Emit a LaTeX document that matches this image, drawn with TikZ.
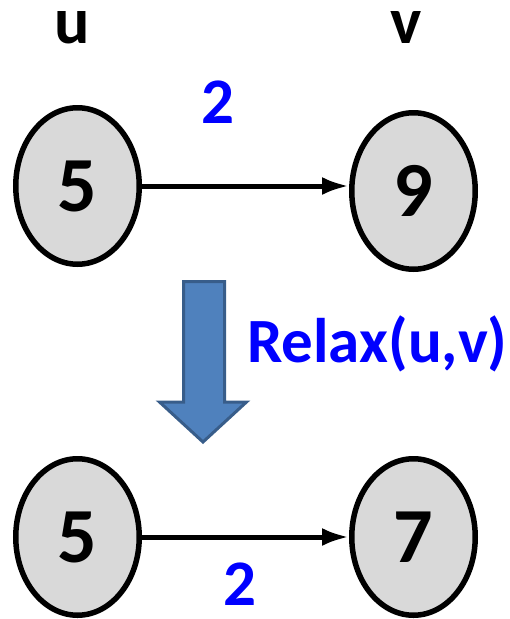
\documentclass[tikz,border=0pt]{standalone}
\usepackage{fontspec}
\setmainfont{Carlito}
\usetikzlibrary{shapes.geometric,arrows.meta}
\definecolor{vertexfill}{HTML}{D9D9D9}
\definecolor{stepblue}{HTML}{4F81BD}
\definecolor{stepedge}{HTML}{385D8A}
\definecolor{labelblue}{HTML}{0000FF}
\begin{document}
\begin{tikzpicture}[x=1pt,y=-1pt,
  vertex/.style={ellipse,draw=black,fill=vertexfill,line width=5.5pt,
    minimum width=123.5pt,minimum height=156.5pt,inner sep=0pt,
    font=\fontsize{78}{78}\selectfont\bfseries},
  edgearrow/.style={line width=5pt,-{Latex[length=27pt,width=18pt]}},
  weight/.style={text=labelblue,font=\fontsize{65}{65}\selectfont\bfseries,anchor=base,inner sep=0pt},
  namelabel/.style={font=\fontsize{66}{66}\selectfont\bfseries,anchor=base,inner sep=0pt},
  steplabel/.style={text=labelblue,font=\fontsize{63}{63}\selectfont\bfseries,anchor=base west,inner sep=0pt}]
\useasboundingbox (0,0) rectangle (510,619);

% vertex names
\node[namelabel] (uname) at (72,43) {u};
\node[namelabel] (vname) at (406,43) {v};

% before relaxation
\node[vertex] (u1) at (77.5,186) {5};
\node[vertex] (v1) at (413.5,191) {9};
\draw[edgearrow] (u1.east) -- (u1.east -| v1.west);
\node[weight] (w1) at (218,123) {2};

% relaxation step
\draw[line width=3pt,draw=stepedge,fill=stepblue,line join=miter]
  (183.5,281.5) -- (224.5,281.5) -- (224.5,402) -- (246.5,402) --
  (203,442) -- (159.5,402) -- (183.5,402) -- cycle;
\node[steplabel] (relax) at (247,362) {Relax(u,v)};

% after relaxation
\node[vertex] (u2) at (77.5,537) {5};
\node[vertex] (v2) at (413.5,537) {7};
\draw[edgearrow] (u2) -- (v2);
\node[weight] (w2) at (240,605) {2};
\end{tikzpicture}
\end{document}
